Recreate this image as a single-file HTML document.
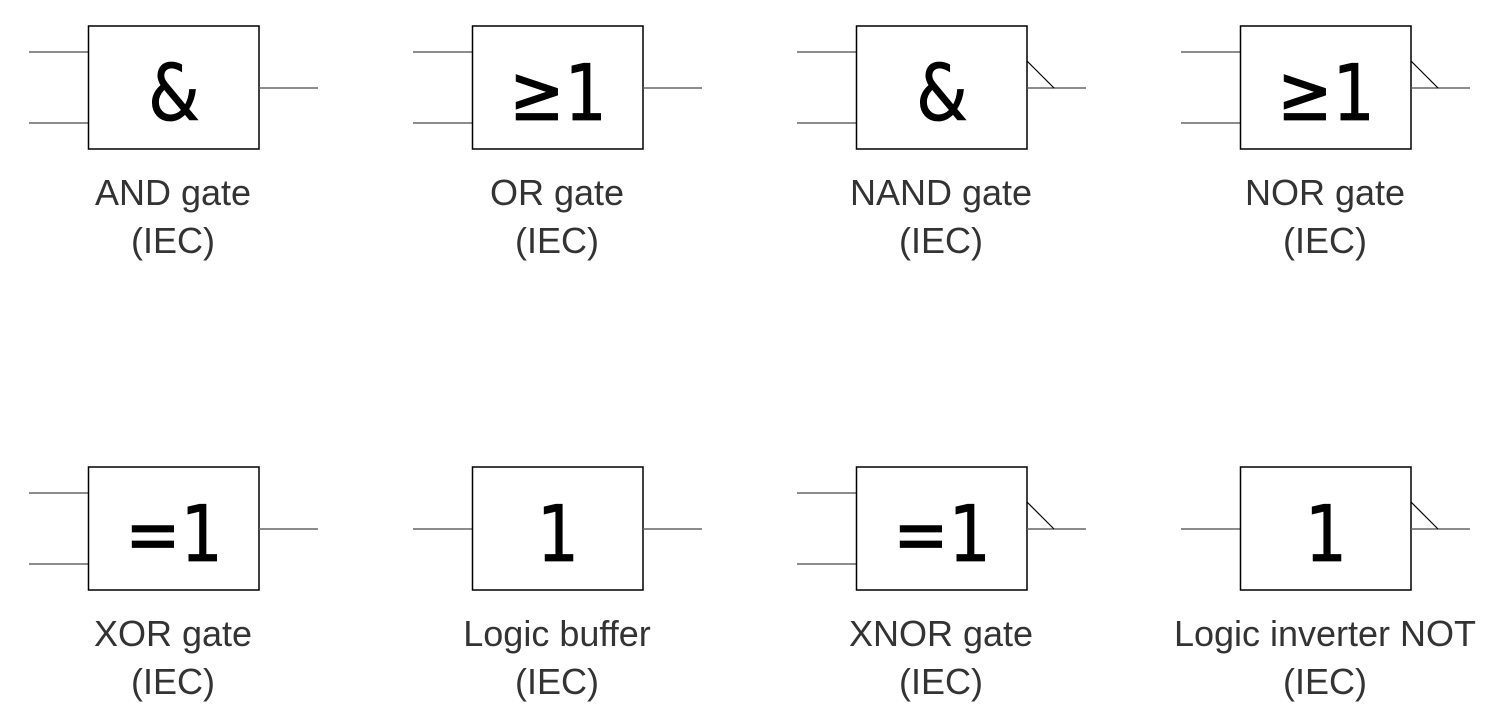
<!DOCTYPE html>
<html><head><meta charset="utf-8"><style>
html,body{margin:0;padding:0;background:#fff;}
svg{display:block;}
.l{font-family:"Liberation Sans",sans-serif;font-size:36px;fill:#333;text-anchor:middle;}
.s{font-family:"DejaVu Sans",sans-serif;font-size:78px;fill:#000;stroke:#000;stroke-width:0.8;text-anchor:middle;}
</style></head><body>
<svg width="1500" height="723" viewBox="0 0 1500 723" xmlns="http://www.w3.org/2000/svg">
<defs>
<g id="two">
<line x1="29" y1="52" x2="88" y2="52" stroke="#666" stroke-width="1.5"/>
<line x1="29" y1="123" x2="88" y2="123" stroke="#666" stroke-width="1.5"/>
</g>
</defs>
<g>
<use href="#two"/>
<rect x="88.5" y="26" width="170.5" height="123" fill="none" stroke="#000" stroke-width="1.5"/>
<line x1="259" y1="88" x2="318" y2="88" stroke="#666" stroke-width="1.5"/>
<text class="s" x="0" y="0" transform="translate(174,120) scale(0.85,1)">&amp;</text>
<text class="l" x="173" y="205">AND gate</text><text class="l" x="173" y="253">(IEC)</text>
</g>
<g transform="translate(384,0)">
<use href="#two"/>
<rect x="88.5" y="26" width="170.5" height="123" fill="none" stroke="#000" stroke-width="1.5"/>
<line x1="259" y1="88" x2="318" y2="88" stroke="#666" stroke-width="1.5"/>
<text class="s" x="0" y="0" transform="translate(174,120) scale(0.85,1)">≥1</text>
<text class="l" x="173" y="205">OR gate</text><text class="l" x="173" y="253">(IEC)</text>
</g>
<g transform="translate(768,0)">
<use href="#two"/>
<rect x="88.5" y="26" width="170.5" height="123" fill="none" stroke="#000" stroke-width="1.5"/>
<line x1="259" y1="88" x2="318" y2="88" stroke="#666" stroke-width="1.5"/>
<line x1="259" y1="61" x2="286" y2="88" stroke="#000" stroke-width="1.2"/>
<text class="s" x="0" y="0" transform="translate(174,120) scale(0.85,1)">&amp;</text>
<text class="l" x="173" y="205">NAND gate</text><text class="l" x="173" y="253">(IEC)</text>
</g>
<g transform="translate(1152,0)">
<use href="#two"/>
<rect x="88.5" y="26" width="170.5" height="123" fill="none" stroke="#000" stroke-width="1.5"/>
<line x1="259" y1="88" x2="318" y2="88" stroke="#666" stroke-width="1.5"/>
<line x1="259" y1="61" x2="286" y2="88" stroke="#000" stroke-width="1.2"/>
<text class="s" x="0" y="0" transform="translate(174,120) scale(0.85,1)">≥1</text>
<text class="l" x="173" y="205">NOR gate</text><text class="l" x="173" y="253">(IEC)</text>
</g>
<g transform="translate(0,441)">
<use href="#two"/>
<rect x="88.5" y="26" width="170.5" height="123" fill="none" stroke="#000" stroke-width="1.5"/>
<line x1="259" y1="88" x2="318" y2="88" stroke="#666" stroke-width="1.5"/>
<text class="s" x="0" y="0" transform="translate(174,120) scale(0.85,1)">=1</text>
<text class="l" x="173" y="205">XOR gate</text><text class="l" x="173" y="253">(IEC)</text>
</g>
<g transform="translate(384,441)">
<line x1="29" y1="88" x2="88" y2="88" stroke="#666" stroke-width="1.5"/>
<rect x="88.5" y="26" width="170.5" height="123" fill="none" stroke="#000" stroke-width="1.5"/>
<line x1="259" y1="88" x2="318" y2="88" stroke="#666" stroke-width="1.5"/>
<text class="s" x="0" y="0" transform="translate(174,120) scale(0.85,1)">1</text>
<text class="l" x="173" y="205">Logic buffer</text><text class="l" x="173" y="253">(IEC)</text>
</g>
<g transform="translate(768,441)">
<use href="#two"/>
<rect x="88.5" y="26" width="170.5" height="123" fill="none" stroke="#000" stroke-width="1.5"/>
<line x1="259" y1="88" x2="318" y2="88" stroke="#666" stroke-width="1.5"/>
<line x1="259" y1="61" x2="286" y2="88" stroke="#000" stroke-width="1.2"/>
<text class="s" x="0" y="0" transform="translate(174,120) scale(0.85,1)">=1</text>
<text class="l" x="173" y="205">XNOR gate</text><text class="l" x="173" y="253">(IEC)</text>
</g>
<g transform="translate(1152,441)">
<line x1="29" y1="88" x2="88" y2="88" stroke="#666" stroke-width="1.5"/>
<rect x="88.5" y="26" width="170.5" height="123" fill="none" stroke="#000" stroke-width="1.5"/>
<line x1="259" y1="88" x2="318" y2="88" stroke="#666" stroke-width="1.5"/>
<line x1="259" y1="61" x2="286" y2="88" stroke="#000" stroke-width="1.2"/>
<text class="s" x="0" y="0" transform="translate(174,120) scale(0.85,1)">1</text>
<text class="l" x="173" y="205">Logic inverter NOT</text><text class="l" x="173" y="253">(IEC)</text>
</g>
</svg>
</body></html>
